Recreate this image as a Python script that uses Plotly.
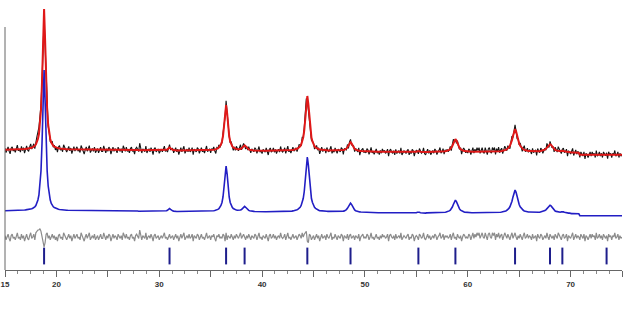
import numpy as np
import plotly.graph_objects as go

# 2-theta sampling grid, 0.1 deg steps from 15 to 75
two_theta = np.round(15 + 0.1 * np.arange(601), 1)

# calculated profile (arbitrary units), one row per degree (x.0 ... x.9)
calc = [
    20.3, 20.3, 20.3, 20.3, 20.3, 20.3, 20.4, 20.4, 20.4, 20.5,  # 15
    20.5, 20.5, 20.6, 20.6, 20.7, 20.7, 20.8, 20.8, 20.9, 21.0,  # 16
    21.1, 21.2, 21.3, 21.5, 21.7, 22.0, 22.3, 22.8, 23.4, 24.2,  # 17
    25.5, 27.5, 31.0, 36.0, 45.0, 60.0, 88.0, 130.0, 161.0, 130.0,  # 18
    88.0, 60.0, 45.0, 36.0, 31.0, 27.5, 25.5, 24.2, 23.4, 22.8,  # 19
    22.3, 22.0, 21.7, 21.5, 21.3, 21.2, 21.1, 21.0, 20.9, 20.8,  # 20
    20.8, 20.7, 20.7, 20.6, 20.6, 20.5, 20.5, 20.5, 20.4, 20.4,  # 21
    20.4, 20.3, 20.3, 20.3, 20.3, 20.3, 20.3, 20.2, 20.2, 20.2,  # 22
    20.2, 20.2, 20.2, 20.2, 20.1, 20.1, 20.1, 20.1, 20.1, 20.1,  # 23
    20.0, 20.0, 20.0, 20.0, 20.0, 20.0, 20.0, 20.0, 20.0, 20.0,  # 24
    20.0, 20.0, 20.0, 20.0, 20.0, 20.0, 20.0, 20.0, 20.0, 20.0,  # 25
    20.0, 20.0, 20.0, 20.0, 20.0, 20.0, 20.0, 20.0, 20.0, 20.0,  # 26
    20.0, 20.0, 20.0, 20.0, 20.0, 20.0, 20.0, 20.0, 20.0, 20.0,  # 27
    19.8, 19.8, 19.8, 19.8, 19.8, 19.8, 19.8, 19.8, 19.8, 19.8,  # 28
    19.6, 19.6, 19.6, 19.6, 19.6, 19.6, 19.6, 19.6, 19.6, 19.6,  # 29
    19.5, 19.5, 19.5, 19.5, 19.5, 19.6, 19.9, 20.2, 20.7, 21.7,  # 30
    22.5, 21.7, 20.7, 20.2, 19.9, 19.6, 19.5, 19.5, 19.5, 19.5,  # 31
    19.5, 19.5, 19.5, 19.5, 19.5, 19.5, 19.5, 19.5, 19.5, 19.5,  # 32
    19.5, 19.5, 19.5, 19.5, 19.5, 19.5, 19.5, 19.5, 19.5, 19.5,  # 33
    19.6, 19.6, 19.6, 19.7, 19.7, 19.7, 19.8, 19.8, 19.9, 19.9,  # 34
    19.9, 20.0, 20.1, 20.2, 20.4, 20.7, 21.0, 21.6, 22.4, 23.7,  # 35
    25.5, 28.5, 34.0, 44.0, 57.0, 65.0, 57.0, 44.0, 34.0, 28.5,  # 36
    25.7, 23.7, 22.5, 21.7, 21.1, 20.9, 20.7, 20.7, 20.8, 21.0,  # 37
    21.5, 22.5, 23.8, 24.6, 23.7, 22.3, 21.2, 20.6, 20.2, 19.9,  # 38
    19.7, 19.6, 19.6, 19.5, 19.4, 19.4, 19.4, 19.3, 19.3, 19.3,  # 39
    19.2, 19.2, 19.2, 19.2, 19.2, 19.2, 19.2, 19.2, 19.2, 19.2,  # 40
    19.2, 19.2, 19.2, 19.2, 19.3, 19.3, 19.3, 19.3, 19.3, 19.3,  # 41
    19.4, 19.4, 19.4, 19.5, 19.5, 19.6, 19.6, 19.7, 19.8, 19.9,  # 42
    20.1, 20.2, 20.4, 20.8, 21.2, 21.8, 22.6, 23.7, 25.5, 28.5,  # 43
    32.5, 39.5, 51.5, 65.9, 74.0, 65.9, 51.5, 39.5, 32.5, 28.5,  # 44
    25.5, 23.7, 22.6, 21.8, 21.2, 20.8, 20.4, 20.2, 20.1, 19.9,  # 45
    19.9, 19.8, 19.7, 19.7, 19.6, 19.6, 19.5, 19.5, 19.5, 19.5,  # 46
    19.3, 19.3, 19.3, 19.4, 19.4, 19.5, 19.5, 19.5, 19.7, 19.9,  # 47
    20.1, 20.6, 21.4, 22.7, 24.5, 26.6, 27.8, 26.6, 24.5, 22.7,  # 48
    21.1, 20.3, 19.8, 19.5, 19.3, 19.1, 19.0, 19.0, 18.9, 18.9,  # 49
    18.6, 18.6, 18.6, 18.5, 18.5, 18.5, 18.5, 18.5, 18.4, 18.4,  # 50
    18.3, 18.3, 18.3, 18.3, 18.2, 18.2, 18.2, 18.2, 18.2, 18.2,  # 51
    18.1, 18.1, 18.1, 18.1, 18.0, 18.0, 18.0, 18.0, 18.0, 18.0,  # 52
    17.9, 17.9, 17.9, 17.9, 17.9, 17.9, 17.9, 17.9, 17.9, 17.9,  # 53
    17.9, 17.9, 17.9, 17.9, 17.9, 17.9, 17.9, 17.9, 18.0, 18.1,  # 54
    18.3, 18.7, 18.9, 18.7, 18.3, 18.1, 17.9, 17.9, 17.9, 17.9,  # 55
    18.1, 18.1, 18.1, 18.1, 18.1, 18.1, 18.2, 18.2, 18.2, 18.2,  # 56
    18.2, 18.2, 18.2, 18.3, 18.3, 18.4, 18.5, 18.6, 18.7, 18.9,  # 57
    19.2, 19.6, 20.1, 20.9, 22.1, 24.0, 26.5, 29.4, 30.9, 29.4,  # 58
    26.5, 24.0, 22.1, 20.9, 20.1, 19.6, 19.2, 18.9, 18.7, 18.6,  # 59
    18.4, 18.4, 18.3, 18.3, 18.2, 18.2, 18.2, 18.1, 18.1, 18.1,  # 60
    18.1, 18.1, 18.1, 18.1, 18.1, 18.1, 18.1, 18.1, 18.1, 18.2,  # 61
    18.2, 18.2, 18.2, 18.3, 18.3, 18.3, 18.3, 18.4, 18.5, 18.6,  # 62
    18.6, 18.7, 18.8, 19.0, 19.1, 19.4, 19.7, 20.1, 20.7, 21.5,  # 63
    22.6, 24.2, 26.5, 29.8, 34.1, 38.7, 40.9, 38.7, 34.1, 29.8,  # 64
    26.5, 24.2, 22.6, 21.5, 20.7, 20.1, 19.7, 19.4, 19.1, 19.0,  # 65
    19.0, 18.9, 18.8, 18.8, 18.8, 18.7, 18.7, 18.7, 18.7, 18.8,  # 66
    18.8, 19.0, 19.2, 19.4, 19.8, 20.4, 21.2, 22.4, 23.9, 25.5,  # 67
    25.8, 25.1, 23.5, 22.0, 20.8, 20.0, 19.6, 19.3, 19.1, 19.0,  # 68
    18.8, 19.2, 19.4, 19.1, 18.7, 18.3, 18.1, 18.0, 17.9, 17.9,  # 69
    17.4, 17.4, 17.4, 17.3, 17.3, 17.3, 17.2, 17.2, 17.2, 15.3,  # 70
    15.3, 15.3, 15.3, 15.3, 15.3, 15.3, 15.3, 15.3, 15.3, 15.3,  # 71
    15.3, 15.3, 15.3, 15.3, 15.3, 15.3, 15.3, 15.3, 15.3, 15.3,  # 72
    15.3, 15.3, 15.3, 15.4, 15.6, 15.8, 15.6, 15.4, 15.3, 15.3,  # 73
    15.3, 15.3, 15.3, 15.3, 15.3, 15.3, 15.3, 15.3, 15.3, 15.3,  # 74
    15.3,                                                        # 75
]

# difference curve (observed - calculated), same grid, in steps of 1.4 units
diff = [
    1, -2, 0, 2, -1, -3, 1, 2, -1, 0,      # 15
    -2, 1, 3, -1, 0, -2, 2, -1, 1, -3,     # 16
    0, 2, -1, -2, 1, 3, -1, 0, 2, -2,      # 17
    3, 4, 5, 5, 6, 4, 1, -4, -7, -4,       # 18
    2, 3, -1, 1, -2, 0, 2, -1, 1, -2,      # 19
    0, -3, 1, 2, -1, 0, -2, 3, 1, -1,      # 20
    -2, 0, 2, -1, 1, -3, 0, 2, -1, 1,      # 21
    2, -1, 0, -2, 3, 1, -1, -3, 0, 2,      # 22
    -1, 1, 3, -2, 0, 1, -1, 2, -2, 0,      # 23
    1, -2, 0, 2, -1, -1, 3, 0, -2, 1,      # 24
    -1, 2, 1, -3, 0, 2, -1, 1, 0, -2,      # 25
    2, 0, -1, 1, -2, 3, 0, -1, 2, -1,      # 26
    0, -2, 1, 2, -1, 0, -3, 1, 2, 0,       # 27
    -1, 5, 2, -2, 1, 0, -1, 3, -2, 0,      # 28
    1, -1, 2, 0, -3, 1, 2, -1, 0, 1,       # 29
    -2, 0, 1, -1, 2, 3, -1, 0, -2, 1,      # 30
    2, -1, 0, 1, -2, 0, 2, -1, 1, -3,      # 31
    0, 2, -1, 1, 3, -2, 0, 1, -1, 2,       # 32
    -1, 0, 2, -3, 1, 0, -1, 2, 1, -2,      # 33
    1, 2, -1, 0, -2, 1, 3, -1, 0, 1,       # 34
    -2, 1, 0, 2, -1, -3, 1, 0, 2, -1,      # 35
    0, -1, 2, 1, -3, 3, -2, 1, 0, -1,      # 36
    2, 0, -2, 1, -1, 2, 0, -1, 1, 3,       # 37
    -1, 1, 2, 0, -2, 1, -1, 2, 0, -2,      # 38
    1, 0, -1, 2, 1, -2, 0, 3, -1, 0,       # 39
    -2, 1, 0, -1, 2, 0, -3, 1, 2, -1,      # 40
    0, 2, -1, 1, -2, 0, 1, -1, 3, 0,       # 41
    -1, 0, 2, -2, 1, 3, -1, 0, -2, 1,      # 42
    2, -1, 0, 1, -2, 0, 2, 1, -1, 3,       # 43
    0, 2, 3, 4, -3, -4, 2, 1, -2, 0,       # 44
    1, -2, 0, 2, -1, 1, -3, 0, 2, -1,      # 45
    0, 1, -2, 2, 0, -1, 1, 3, -2, 0,       # 46
    -1, 2, 0, -2, 1, 0, -1, 2, 1, -3,      # 47
    1, 0, -1, 2, -2, 1, 2, -1, 0, 1,       # 48
    -2, 1, 0, -1, 2, -3, 0, 1, 2, -1,      # 49
    0, -1, 2, 1, -2, 0, 3, -1, 0, -2,      # 50
    1, 2, -1, 0, -2, 1, -1, 2, 0, 1,       # 51
    -1, 0, 2, -3, 1, 2, 0, -1, 1, -2,      # 52
    2, -1, 0, 1, -1, 3, -2, 0, 1, 0,       # 53
    -1, 1, 2, -2, 0, -1, 2, 1, -3, 0,      # 54
    1, 0, -2, 2, 1, -1, 0, 3, -1, -2,      # 55
    0, 2, -1, 1, -2, 0, 1, -1, 2, 1,       # 56
    -2, 0, 1, 3, -1, 0, 2, -2, 1, 0,       # 57
    1, -1, 0, 2, -2, 1, 3, -1, 0, -2,      # 58
    2, 0, -1, 1, -3, 0, 2, 1, -1, 0,       # 59
    -1, 2, 1, -2, 0, 3, -1, 2, 0, 3,       # 60
    1, 3, -1, 2, 3, 0, -1, 3, 1, -2,       # 61
    2, 3, 0, -1, 3, 1, 3, -2, 2, 0,        # 62
    3, -1, 1, 2, -2, 0, 3, 1, -1, 2,       # 63
    0, -2, 1, 3, -1, 2, 3, 0, -2, 1,       # 64
    -1, 2, 0, -2, 1, 3, -1, 0, 2, -1,      # 65
    1, 0, -2, 2, -1, 0, 1, -3, 2, 0,       # 66
    -1, 2, 1, -2, 0, 1, -1, 3, 0, -2,      # 67
    2, 0, -1, 1, -2, 2, 0, -1, 3, 1,       # 68
    0, -2, 1, 2, -1, 0, 2, -3, 1, 0,       # 69
    -1, 1, 3, -2, 0, 2, -1, 1, 0, -2,      # 70
    2, 0, -1, 2, -3, 1, 0, -2, 1, 2,       # 71
    -1, 2, 0, 1, -2, 3, -1, 0, 2, -1,      # 72
    1, -2, 2, 0, -1, 1, -3, 2, 0, 1,       # 73
    -2, 1, 0, 3, -1, 0, 2, -2, 1, -1,      # 74
    0,                                     # 75
]
DIFF_UNIT = 1.4

# Bragg reflection positions (2-theta, deg)
bragg = [18.8, 31.0, 36.5, 38.3, 44.4, 48.6, 55.2, 58.8, 64.6, 68.0, 69.2, 73.5]

# axis tick labels
tick_vals = [15, 20, 25, 30, 35, 40, 45, 50, 55, 60, 65, 70, 75]
tick_text = ["15", "20", "", "30", "", "40", "", "50", "", "60", "", "70", ""]

# display offsets (stacking of curves)
OFF_OBS = 100
OFF_CALC = 39
OFF_DIFF = 33
BRAGG_Y = 14

calc_a = np.array(calc, dtype=float)
diff_a = np.array(diff, dtype=float) * DIFF_UNIT
obs_a = calc_a + diff_a

fig = go.Figure()
fig.add_trace(go.Scatter(x=two_theta, y=obs_a + OFF_OBS, mode="lines",
                         line=dict(color="#141414", width=1.1), hoverinfo="skip"))
fig.add_trace(go.Scatter(x=two_theta, y=calc_a + OFF_OBS, mode="lines",
                         line=dict(color="rgb(224,24,24)", width=2), hoverinfo="skip"))
fig.add_trace(go.Scatter(x=two_theta, y=calc_a + OFF_CALC, mode="lines",
                         line=dict(color="rgb(34,30,196)", width=1.6), hoverinfo="skip"))
fig.add_trace(go.Scatter(x=two_theta, y=diff_a + OFF_DIFF, mode="lines",
                         line=dict(color="rgb(140,140,140)", width=1.2), hoverinfo="skip"))
fig.add_trace(go.Scatter(x=bragg, y=[BRAGG_Y] * len(bragg), mode="markers",
                         marker=dict(symbol="line-ns", size=12,
                                     line=dict(width=2, color="rgb(30,30,140)")),
                         hoverinfo="skip"))

# left axis line
fig.add_shape(type="line", xref="paper", yref="y", x0=0, x1=0, y0=0, y1=243,
              line=dict(color="#666666", width=1))

fig.update_layout(
    width=623, height=310,
    margin=dict(l=5, r=1, t=0, b=40, autoexpand=False),
    paper_bgcolor="white", plot_bgcolor="white",
    showlegend=False, hovermode=False,
    xaxis=dict(range=[15, 75], showgrid=False, zeroline=False, automargin=False,
               showline=True, linecolor="#666666", linewidth=1,
               ticks="outside", ticklen=6, tickcolor="#666666", tickwidth=1,
               tickvals=tick_vals, ticktext=tick_text,
               tickfont=dict(family="Arial, Liberation Sans", size=8, color="#333333", weight="bold"),
               minor=dict(ticks="outside", ticklen=3, tick0=15, dtick=1.25,
                          tickcolor="#888888", showgrid=False)),
    yaxis=dict(range=[0, 270], visible=False, showgrid=False, zeroline=False,
               automargin=False),
)

fig.write_html("out.html", config={"displayModeBar": False},
               post_script="document.body.style.margin='0';document.body.style.overflow='hidden';")
